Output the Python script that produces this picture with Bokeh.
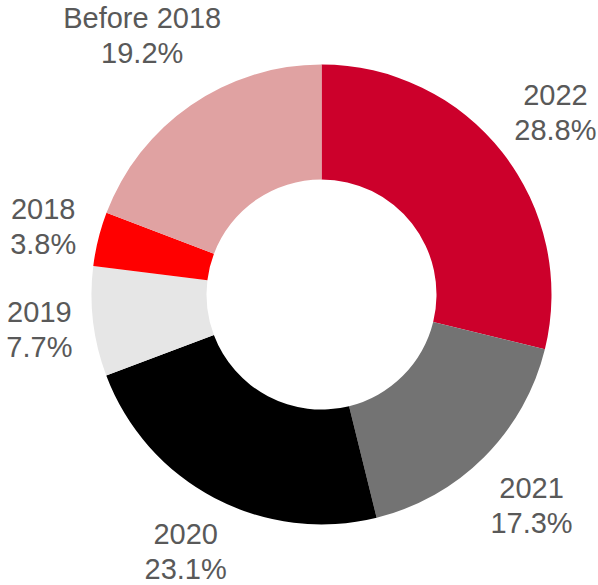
import math
from bokeh.plotting import figure
from bokeh.models import Range1d, ColumnDataSource
from bokeh.core.properties import value
from bokeh.embed import file_html
from bokeh.resources import INLINE

# ---- data ----
categories = ["2022", "2021", "2020", "2019", "2018", "Before 2018"]
shares = [28.8, 17.3, 23.1, 7.7, 3.8, 19.2]
colors = ["#CC002B", "#737373", "#000000", "#E6E6E6", "#FF0000", "#E0A2A2"]

# ---- layout constants (canvas pixels, y down) ----
W, H = 598, 585
CX, CY = 321, 294          # donut centre
R_OUT, R_IN = 230, 115
GAP = 18
FONT_PX = 29
LINE_H = 35
CAP = 0.716 * FONT_PX
DESC = 0.212 * FONT_PX
TEXT_DY = 9                # renderer baseline correction
TEXT_COLOR = "#595959"

CHAR_W = {"0": .556, "1": .556, "2": .556, "3": .556, "4": .556, "5": .556,
          "6": .556, "7": .556, "8": .556, "9": .556, ".": .278, "%": .889,
          " ": .278, "B": .667, "e": .556, "f": .278, "o": .556, "r": .333}


def text_w(s):
    return sum(CHAR_W.get(c, .556) for c in s) * FONT_PX


total = sum(shares)
starts, ends, cum = [], [], 0.0
lab_x, lab_y1, lab_y2, pct_txt = [], [], [], []
for cat, v in zip(categories, shares):
    a0 = math.pi / 2 - 2 * math.pi * cum / total
    mid_frac = (cum + v / 2) / total
    cum += v
    a1 = math.pi / 2 - 2 * math.pi * cum / total
    starts.append(a0)
    ends.append(a1)

    pct = f"{v:.1f}%"
    pct_txt.append(pct)
    w = max(text_w(cat), text_w(pct))
    h = LINE_H + CAP
    th = 2 * math.pi * mid_frac           # clockwise from top
    sx, sy = math.sin(th), -math.cos(th)  # canvas direction (y down)
    dist = R_OUT + GAP + abs(sx) * w / 2 + abs(sy) * h / 2
    bx = CX + dist * sx
    by = CY + dist * sy
    bx = min(max(bx, w / 2 + 2), W - w / 2 - 2)
    by = min(max(by, h / 2 + 2), H - h / 2 - DESC - 1)
    top = by - h / 2 - TEXT_DY
    lab_x.append(bx)
    lab_y1.append(H - (top + CAP))
    lab_y2.append(H - (top + CAP + LINE_H))

src = ColumnDataSource(dict(cat=categories, share=shares, color=colors,
                            start=starts, end=ends, lx=lab_x, ly1=lab_y1,
                            ly2=lab_y2, pct=pct_txt))

p = figure(width=W, height=H, output_backend="svg", toolbar_location=None,
           x_range=Range1d(0, W), y_range=Range1d(0, H), min_border=0)
p.axis.visible = False
p.grid.visible = False
p.outline_line_color = None
p.background_fill_color = "white"
p.border_fill_color = "white"

p.annular_wedge(x=CX, y=H - CY, inner_radius=R_IN, outer_radius=R_OUT,
                start_angle="start", end_angle="end", direction="clock",
                fill_color="color", line_color=None, source=src)

for col, ycol in (("cat", "ly1"), ("pct", "ly2")):
    p.text(x="lx", y=ycol, text=col, source=src, text_align="center",
           text_baseline="alphabetic", text_color=TEXT_COLOR,
           text_font=value("Liberation Sans"), text_font_size=f"{FONT_PX}px")

open("out.html", "w").write(file_html(p, INLINE))
